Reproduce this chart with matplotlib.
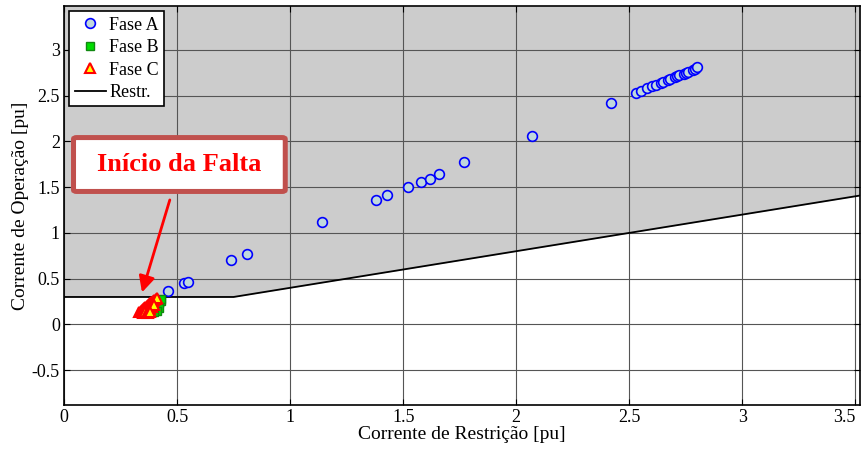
import numpy as np
import matplotlib.pyplot as plt
from matplotlib.patches import FancyBboxPatch

plt.rcParams["font.family"] = ["Liberation Serif", "DejaVu Serif"]

# restraint characteristic
restr_x = [0.0, 0.75, 3.52]
restr_y = [0.3, 0.3, 1.408]

# phase A trajectory
fase_a_x = [0.46, 0.53, 0.55, 0.74, 0.81, 1.14, 1.38, 1.43, 1.52, 1.58, 1.62, 1.66, 1.77,
            2.07, 2.42, 2.53, 2.55, 2.58, 2.60, 2.62, 2.64, 2.65, 2.67, 2.68, 2.70, 2.71,
            2.72, 2.74, 2.75, 2.76, 2.78, 2.79, 2.80]
fase_a_y = [0.37, 0.45, 0.46, 0.70, 0.77, 1.12, 1.36, 1.41, 1.50, 1.56, 1.59, 1.64, 1.77,
            2.06, 2.42, 2.53, 2.55, 2.58, 2.60, 2.62, 2.64, 2.65, 2.67, 2.68, 2.70, 2.71,
            2.72, 2.74, 2.75, 2.76, 2.78, 2.79, 2.81]

# phase B cluster
fase_b_x = [0.38, 0.39, 0.40, 0.40, 0.41, 0.41, 0.42, 0.42, 0.43, 0.43, 0.42, 0.41, 0.40]
fase_b_y = [0.15, 0.16, 0.17, 0.19, 0.20, 0.22, 0.23, 0.25, 0.26, 0.28, 0.18, 0.15, 0.14]

# phase C cluster
fase_c_x = [0.33, 0.34, 0.345, 0.35, 0.355, 0.36, 0.365, 0.37, 0.375, 0.38, 0.385, 0.39,
            0.395, 0.40, 0.405, 0.41, 0.35, 0.36, 0.37, 0.38, 0.39, 0.40, 0.37, 0.38]
fase_c_y = [0.14, 0.15, 0.16, 0.17, 0.18, 0.19, 0.20, 0.21, 0.22, 0.23, 0.24, 0.25,
            0.26, 0.27, 0.28, 0.29, 0.13, 0.14, 0.15, 0.17, 0.19, 0.21, 0.13, 0.14]

fig = plt.figure(figsize=(8.61, 4.5), dpi=100)
ax = fig.add_axes([0.0743, 0.1, 0.9245, 0.887])

xlim = (0, 3.52)
ylim = (-0.88, 3.48)

ax.fill_between(restr_x, restr_y, ylim[1], color="#cccccc", zorder=0, linewidth=0)
ax.grid(True, color="#555555", linewidth=0.8, zorder=1)
ax.set_axisbelow(True)

ax.plot(fase_a_x, fase_a_y, "o", markersize=7, markerfacecolor="#c0d8dc",
        markeredgecolor="#0000ff", markeredgewidth=1.2, label="Fase A", zorder=3)
ax.plot(fase_b_x, fase_b_y, "s", markersize=6, markerfacecolor="#00dd00",
        markeredgecolor="#118811", markeredgewidth=1.0, label="Fase B", zorder=3)
ax.plot(fase_c_x, fase_c_y, "^", markersize=7, markerfacecolor="#ffff00",
        markeredgecolor="#ff0000", markeredgewidth=1.5, label="Fase C", zorder=4)
ax.plot(restr_x, restr_y, "-", color="black", linewidth=1.3, label="Restr.", zorder=2)

ax.set_xlim(*xlim)
ax.set_ylim(*ylim)
ax.set_xticks(np.arange(0, 3.51, 0.5))
ax.set_xticklabels(["0", "0.5", "1", "1.5", "2", "2.5", "3", "3.5"])
ax.set_yticks(np.arange(-0.5, 3.01, 0.5))
ax.set_yticklabels(["-0.5", "0", "0.5", "1", "1.5", "2", "2.5", "3"])
ax.tick_params(direction="in", top=True, right=True, labelsize=13, length=4, pad=3)
ax.get_xticklabels()[-1].set_horizontalalignment("right")
for s in ax.spines.values():
    s.set_linewidth(1.2)

ax.set_xlabel("Corrente de Restrição [pu]", fontsize=14, labelpad=0)
ax.set_ylabel("Corrente de Operação [pu]", fontsize=14, labelpad=2)

leg = ax.legend(loc="upper left", fontsize=13, frameon=True, fancybox=False,
                edgecolor="black", framealpha=1, borderaxespad=0.3,
                handlelength=1.7, handletextpad=0.2, labelspacing=0.3,
                borderpad=0.3)
leg.get_frame().set_linewidth(1.2)

# annotation box
box = FancyBboxPatch((0.012, 0.535), 0.266, 0.135, boxstyle="round,pad=0,rounding_size=0.004",
                     transform=ax.transAxes, facecolor="white", edgecolor="#c0504d",
                     linewidth=3.6, zorder=5)
ax.add_patch(box)
ax.text(0.145, 0.603, "Início da Falta", transform=ax.transAxes, fontsize=19,
        fontweight="bold", color="#ff0000", ha="center", va="center", zorder=6)
ax.annotate("", xy=(0.345, 0.35), xytext=(0.468, 1.36),
            arrowprops=dict(arrowstyle="-|>", color="#ff0000", linewidth=2,
                            mutation_scale=24, shrinkA=0, shrinkB=0),
            zorder=5)

fig.savefig("out.png", dpi=100)
